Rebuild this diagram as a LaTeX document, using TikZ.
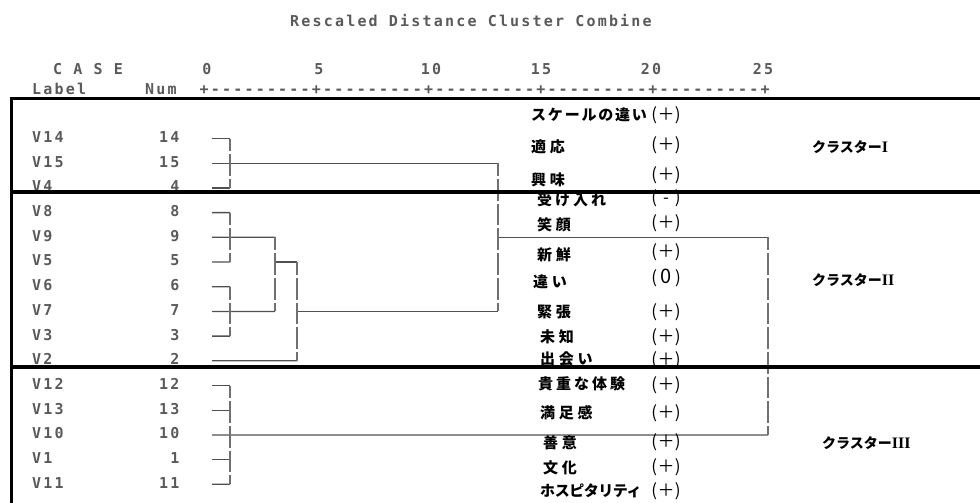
\documentclass[tikz,border=0pt]{standalone}
\usepackage{fontspec}
\newfontfamily\mono{DejaVu Sans Mono Bold}[LetterSpace=14.6]
\newfontfamily\jp{Noto Sans CJK JP}
\newfontfamily\tnr{Liberation Serif}
\definecolor{txtgray}{HTML}{5A5A5A}
\definecolor{dgray}{HTML}{505050}
\definecolor{vgray}{HTML}{707070}
\tikzset{
  mt/.style={font=\mono\fontsize{15}{15}\selectfont, text=txtgray, inner sep=0pt, anchor=base west},
  jl/.style={font=\jp\bfseries\fontsize{15}{15}\selectfont\addfontfeatures{LetterSpace=#1}, inner sep=0pt, anchor=base west},
  sg/.style={font=\jp\fontsize{17}{17}\selectfont, inner sep=0pt, anchor=base},
  cl/.style={font=\jp\bfseries\fontsize{14}{14}\selectfont, inner sep=0pt, anchor=base west},
  hl/.style={draw=dgray, line width=1.3pt},
  vl/.style={draw=vgray, line width=1.6pt, dash pattern=on 21.7pt off 3pt, dash phase=8.9pt},
  frame/.style={draw=black, line width=3.2pt}
}
\begin{document}
\begin{tikzpicture}[x=1pt,y=-1pt]
\useasboundingbox (0,0) rectangle (980,503);
% header
\node[mt] (title) at (290,26.5) {Rescaled Distance Cluster Combine};
\node[mt] (case) at (53,74.5) {C A S E};
\node[mt,anchor=base] (t0) at (207,74.5) {0};
\node[mt,anchor=base] (t5) at (319,74.5) {5};
\node[mt,anchor=base] (t10) at (431,74.5) {10};
\node[mt,anchor=base] (t15) at (541,74.5) {15};
\node[mt,anchor=base] (t20) at (651,74.5) {20};
\node[mt,anchor=base] (t25) at (763,74.5) {25};
\node[mt] (lbl) at (32,95) {Label};
\node[mt] (nm) at (145,95) {Num};
\node[mt] (axis) at (199.5,95) {+---------+---------+---------+---------+---------+};
% rows
\foreach \lab/\num [count=\i from 0] in {V14/14,V15/15,V4/4,V8/8,V9/9,V5/5,V6/6,V7/7,V3/3,V2/2,V12/12,V13/13,V10/10,V1/1,V11/11}{
  \pgfmathsetmacro\yc{137+24.7*\i}
  \node[mt] (lab\i) at (32,\yc+5.4) {\lab};
  \node[mt,anchor=base east] (num\i) at (179.5,\yc+5.4) {\num};
  \coordinate (s\i) at (212,\yc+1.5);
}
% junction coordinates
\coordinate (a0) at (230,138.5); \coordinate (a2) at (230,187.9);
\coordinate (b3) at (230,212.6); \coordinate (b5) at (230,262.0);
\coordinate (b6) at (230,286.7); \coordinate (b8) at (230,336.1);
\coordinate (c4) at (275,237.3); \coordinate (c5) at (275,262.0); \coordinate (c7) at (275,311.4);
\coordinate (d5) at (297,262.0); \coordinate (d7) at (297,311.4); \coordinate (d9) at (297,360.8);
\coordinate (e1) at (498,163.2); \coordinate (e4) at (498,237.3); \coordinate (e7) at (498,311.4);
\coordinate (f10) at (230,385.5); \coordinate (f14) at (230,484.3);
\coordinate (g4) at (768,237.3); \coordinate (g12) at (768,434.9);
% horizontals
\draw[hl] (s0) -- (a0);
\draw[hl] (s1) -- (e1);
\draw[hl] (s2) -- (a2);
\draw[hl] (s3) -- (b3);
\draw[hl] (s4) -- (c4);
\draw[hl] (s5) -- (b5);
\draw[hl] (s6) -- (b6);
\draw[hl] (s7) -- (c7);
\draw[hl] (s8) -- (b8);
\draw[hl] (s9) -- (d9);
\draw[hl] (c5) -- (d5);
\draw[hl] (d7) -- (e7);
\draw[hl] (e4) -- (g4);
\draw[hl] (s10) -- (f10 |- s10);
\draw[hl] (s11) -- (f10 |- s11);
\draw[hl] (s12) -- (g12);
\draw[hl] (s13) -- (f10 |- s13);
\draw[hl] (s14) -- (f14);
% verticals
\draw[vl] (a0) -- (a2);
\draw[vl] (b3) -- (b5);
\draw[vl] (b6) -- (b8);
\draw[vl] (c4) -- (c7);
\draw[vl] (d5) -- (d9);
\draw[vl] (e1) -- (e7);
\draw[vl] (f10) -- (f14);
\draw[vl] (g4) -- (g12);
% Japanese labels
\node[jl=12] (j1) at (531,120.7) {スケールの違い};
\node[jl=25] (j2) at (531,152.7) {適応};
\node[jl=25] (j3) at (531,185.7) {興味};
\node[jl=20] (j4) at (537,205.7) {受け入れ};
\node[jl=25] (j5) at (537,230.7) {笑顔};
\node[jl=25] (j6) at (537,260.7) {新鮮};
\node[jl=25] (j7) at (533,287.7) {違い};
\node[jl=25] (j8) at (537,317.7) {緊張};
\node[jl=25] (j9) at (540,342.7) {未知};
\node[jl=25] (j10) at (540,364.7) {出会い};
\node[jl=20] (j11) at (538,389.7) {貴重な体験};
\node[jl=25] (j12) at (540,418.7) {満足感};
\node[jl=25] (j13) at (543,448.7) {善意};
\node[jl=25] (j14) at (543,473.7) {文化};
\node[jl=-3] (j15) at (540,496.7) {ホスピタリティ};
% signs
\foreach \y/\s [count=\k] in {115/＋,145/＋,175/＋,198/-,223/＋,252/＋,278/{\fontsize{20}{20}\selectfont 0},312/＋,337/＋,360/＋,385/＋,413/＋,442/＋,467/＋,491/＋}{
  \node[sg] (sg\k) at (666,\y+5) {(\makebox[18pt][c]{\s})};
}
% cluster labels
\node[cl] (k1) at (812,152.3) {クラスター{\tnr\bfseries\fontsize{16}{16}\selectfont I}};
\node[cl] (k2) at (812,285.3) {クラスター{\tnr\bfseries\fontsize{16}{16}\selectfont II}};
\node[cl] (k3) at (822,448.3) {クラスター{\tnr\bfseries\fontsize{16}{16}\selectfont III}};
% frame
\draw[frame] (990,98.3) -- (11.5,98.3) -- (11.5,510);
\draw[frame] (11.5,192) -- (990,192);
\draw[frame] (11.5,367) -- (990,367);
\end{tikzpicture}
\end{document}
